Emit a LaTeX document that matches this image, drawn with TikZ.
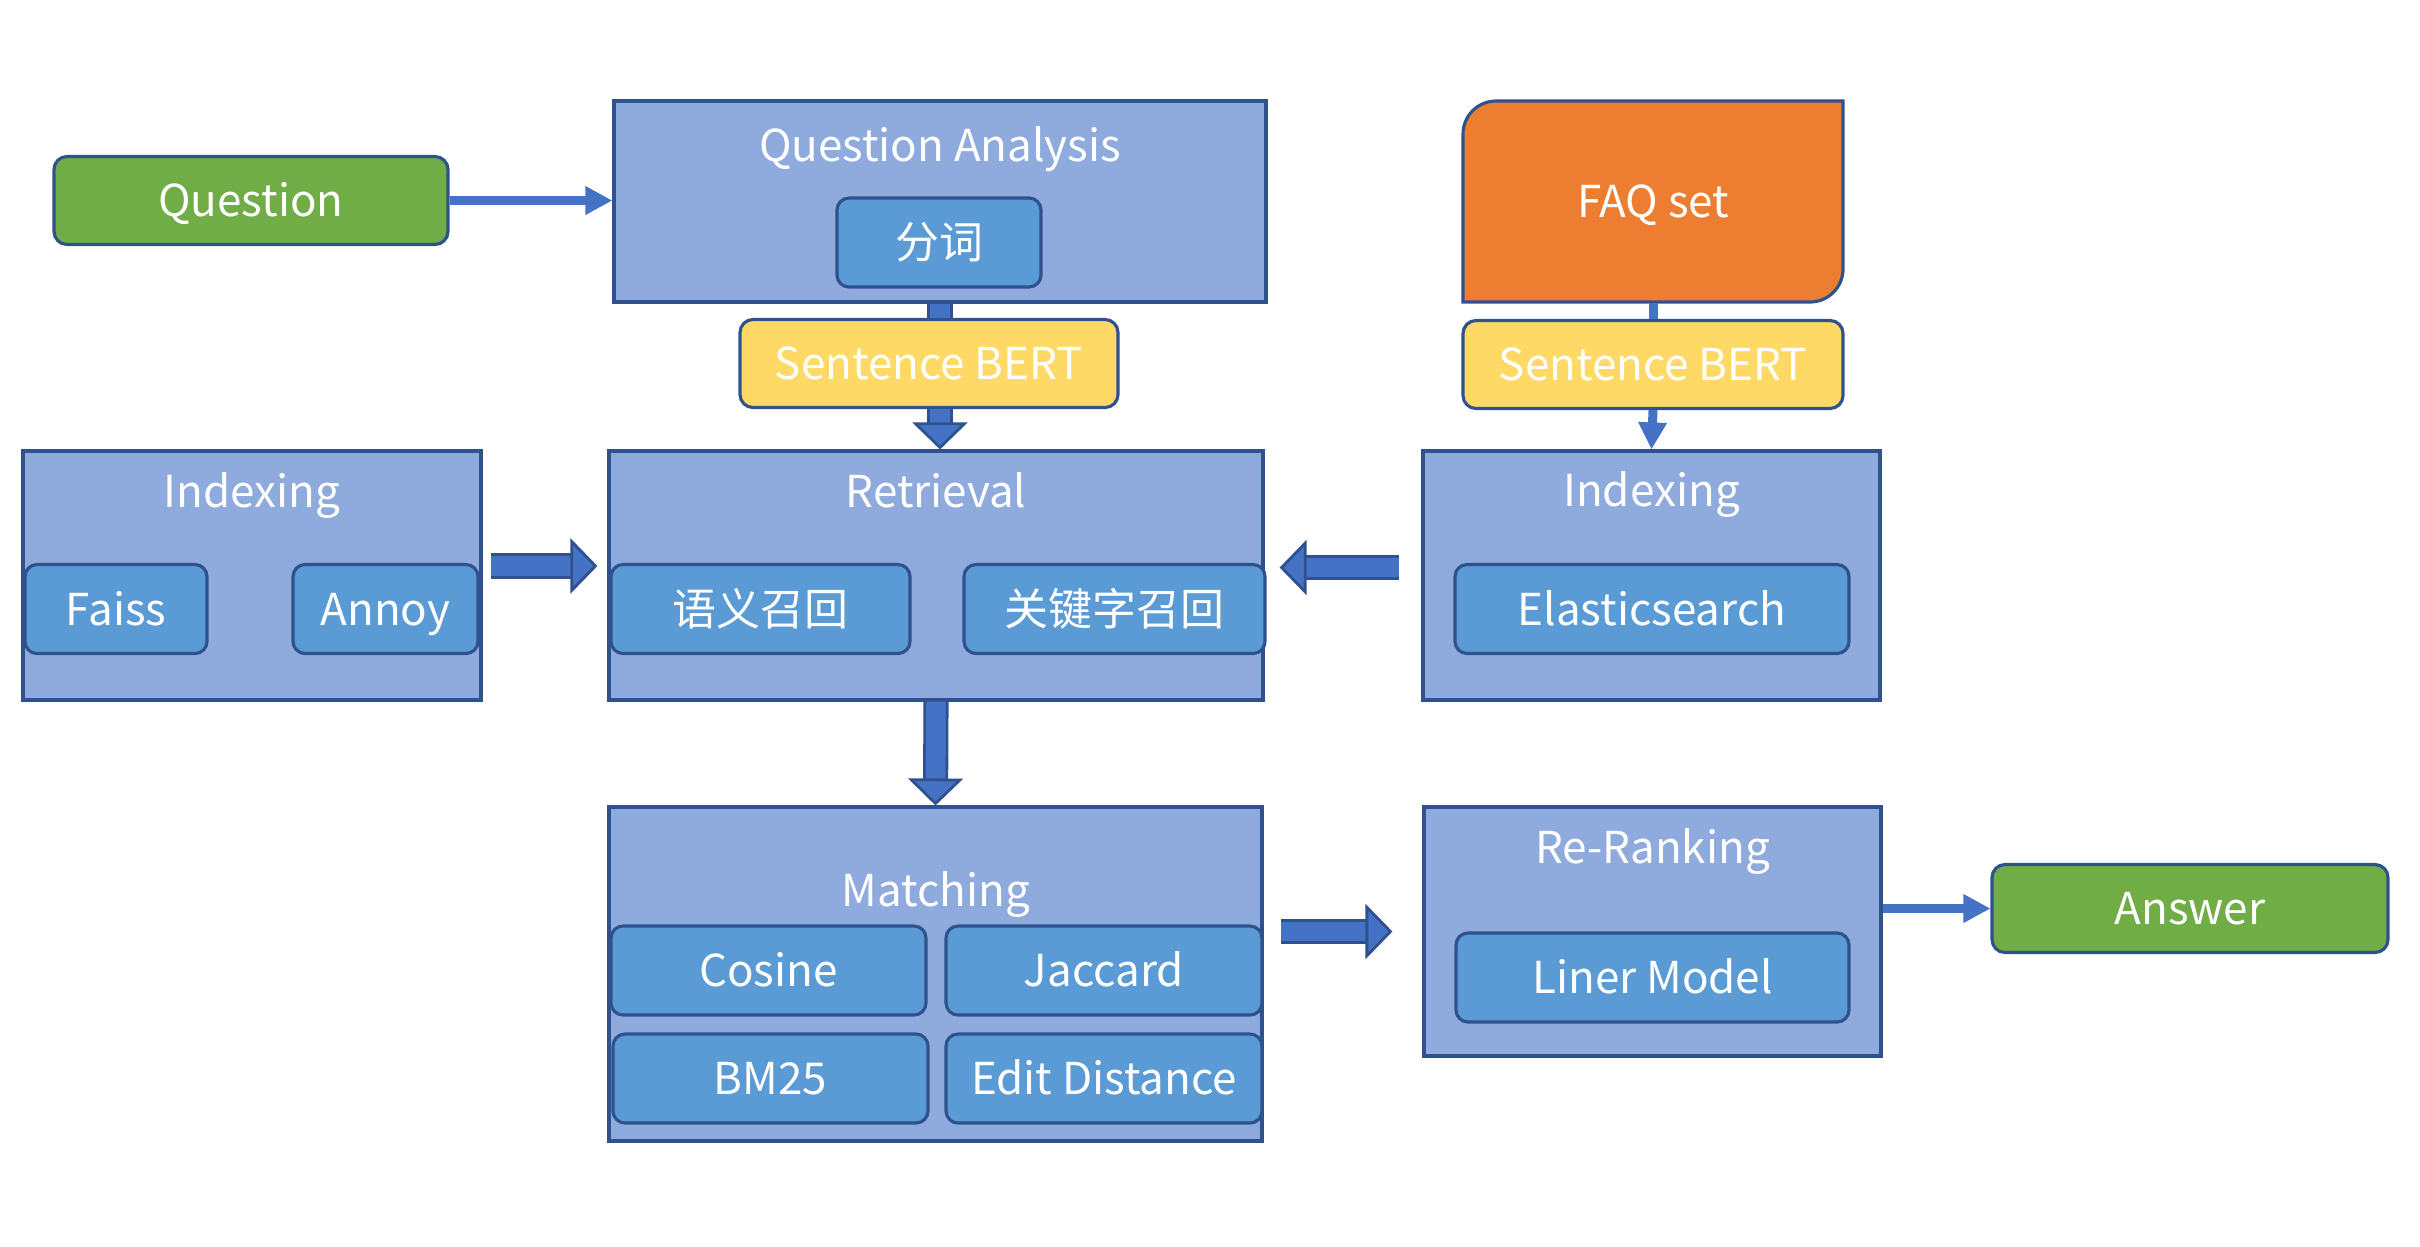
\documentclass[tikz,border=0pt]{standalone}
\usepackage{fontspec}
\setmainfont{Noto Sans CJK SC}
\usetikzlibrary{arrows.meta}
\definecolor{panel}{HTML}{8FAADC}
\definecolor{inner}{HTML}{5B9BD5}
\definecolor{edge}{HTML}{2F528F}
\definecolor{flow}{HTML}{4472C4}
\definecolor{qgreen}{HTML}{70AD47}
\definecolor{faqorange}{HTML}{ED7D31}
\definecolor{bertyellow}{HTML}{FFD966}

\begin{document}
\begin{tikzpicture}[font=\fontsize{12.5}{15}\selectfont, text=white,
  every node/.style={text height=3.4mm, text depth=0.2mm},
  panelbox/.style={draw=edge, line width=0.9pt, fill=panel, inner sep=0pt},
  inbox/.style={draw=edge, line width=0.9pt, fill=inner, rounded corners=1.2mm, minimum height=0.89cm, inner sep=0pt},
  pill/.style={draw=edge, line width=0.9pt, rounded corners=1.3mm, minimum height=0.88cm, inner sep=0pt},
  thinflow/.style={draw=flow, line width=0.9mm, -{Triangle[length=2.7mm, width=2.7mm]}},
  blockflow/.style={draw=edge, line width=0.8pt, double=flow, double distance=1.95mm},
  blockhead/.style={-{Triangle[length=2.7mm, width=5.5mm, line width=0.8pt, fill=flow]}}]
\useasboundingbox (0,0) rectangle (24.2,-12.46);

% panels
\node[panelbox, minimum width=6.52cm, minimum height=2.01cm] (qa) at (9.40,-2.015) {};
\node[panelbox, minimum width=4.58cm, minimum height=2.49cm] (idxL) at (2.52,-5.755) {};
\node[panelbox, minimum width=6.54cm, minimum height=2.49cm] (retr) at (9.36,-5.755) {};
\node[panelbox, minimum width=4.57cm, minimum height=2.49cm] (idxR) at (16.515,-5.755) {};
\node[panelbox, minimum width=6.53cm, minimum height=3.34cm] (match) at (9.355,-9.74) {};
\node[panelbox, minimum width=4.57cm, minimum height=2.49cm] (rerank) at (16.525,-9.315) {};

\node (qat) at (9.40,-1.45) {Question Analysis};
\node (idxLt) at (2.52,-4.91) {Indexing};
\node (retrt) at (9.36,-4.91) {Retrieval};
\node (idxRt) at (16.515,-4.90) {Indexing};
\node (matcht) at (9.36,-8.90) {Matching};
\node (reranktt) at (16.525,-8.47) {Re-Ranking};

% inner boxes
\node[inbox, minimum width=2.04cm] (seg) at (9.39,-2.425) {分词};
\node[inbox, minimum width=1.82cm] (faiss) at (1.16,-6.09) {Faiss};
\node[inbox, minimum width=1.85cm] (annoy) at (3.855,-6.09) {Annoy};
\node[inbox, minimum width=2.99cm] (sem) at (7.605,-6.09) {语义召回};
\node[inbox, minimum width=3.01cm] (kw) at (11.145,-6.09) {关键字召回};
\node[inbox, minimum width=3.94cm] (es) at (16.52,-6.09) {Elasticsearch};
\node[inbox, minimum width=3.15cm] (cos) at (7.685,-9.705) {Cosine};
\node[inbox, minimum width=3.16cm] (jac) at (11.04,-9.705) {Jaccard};
\node[inbox, minimum width=3.15cm] (bm) at (7.705,-10.785) {BM25};
\node[inbox, minimum width=3.16cm] (edit) at (11.04,-10.785) {Edit Distance};
\node[inbox, minimum width=3.93cm] (liner) at (16.525,-9.775) {Liner Model};

% ends
\node[pill, fill=qgreen, minimum width=3.94cm] (question) at (2.51,-2.005) {Question};
\node[pill, fill=qgreen, minimum width=3.96cm] (answer) at (21.9,-9.085) {Answer};
\node[pill, fill=bertyellow, minimum width=3.78cm] (sbertL) at (9.29,-3.635) {Sentence BERT};
\node[pill, fill=bertyellow, minimum width=3.80cm] (sbertR) at (16.53,-3.645) {Sentence BERT};
\draw[draw=edge, line width=0.9pt, fill=faqorange] (14.63,-3.02) -- (14.63,-1.34) arc[start angle=180, end angle=90, radius=0.33]
  -- (18.43,-1.01) -- (18.43,-2.69) arc[start angle=0, end angle=-90, radius=0.33] -- cycle;
\node[minimum width=3.8cm, minimum height=2.01cm, inner sep=0pt] (faq) at (16.53,-2.015) {FAQ set};

% connectors
\draw[thinflow] (question.east) -- (question.east -| qa.west);
\draw[blockflow] (qa.south) -- (qa.south |- sbertL.north);
\draw[blockflow, blockhead] (sbertL.south -| qa.south) -- (retr.north -| qa.south);
\draw[blockflow, blockhead, shorten <=0.8mm, shorten >=1mm] ([yshift=0.95mm]idxL.east) -- ([yshift=0.95mm]idxL.east -| retr.west);
\draw[blockflow, blockhead, shorten <=2.2mm, shorten >=1.5mm] ([yshift=0.8mm]idxR.west) -- ([yshift=0.8mm]idxR.west -| retr.east);
\draw[blockflow, blockhead] (retr.south) -- (match.north);
\draw[blockflow, blockhead, shorten <=1.7mm, shorten >=3mm] (match.east |- rerank.west) -- (rerank.west);
\draw[draw=flow, line width=0.9mm] (faq.south) -- (sbertR.north);
\draw[thinflow] (sbertR.south) -- (idxR.north);
\draw[thinflow] (rerank.east |- answer.west) -- (answer.west);
\end{tikzpicture}
\end{document}
